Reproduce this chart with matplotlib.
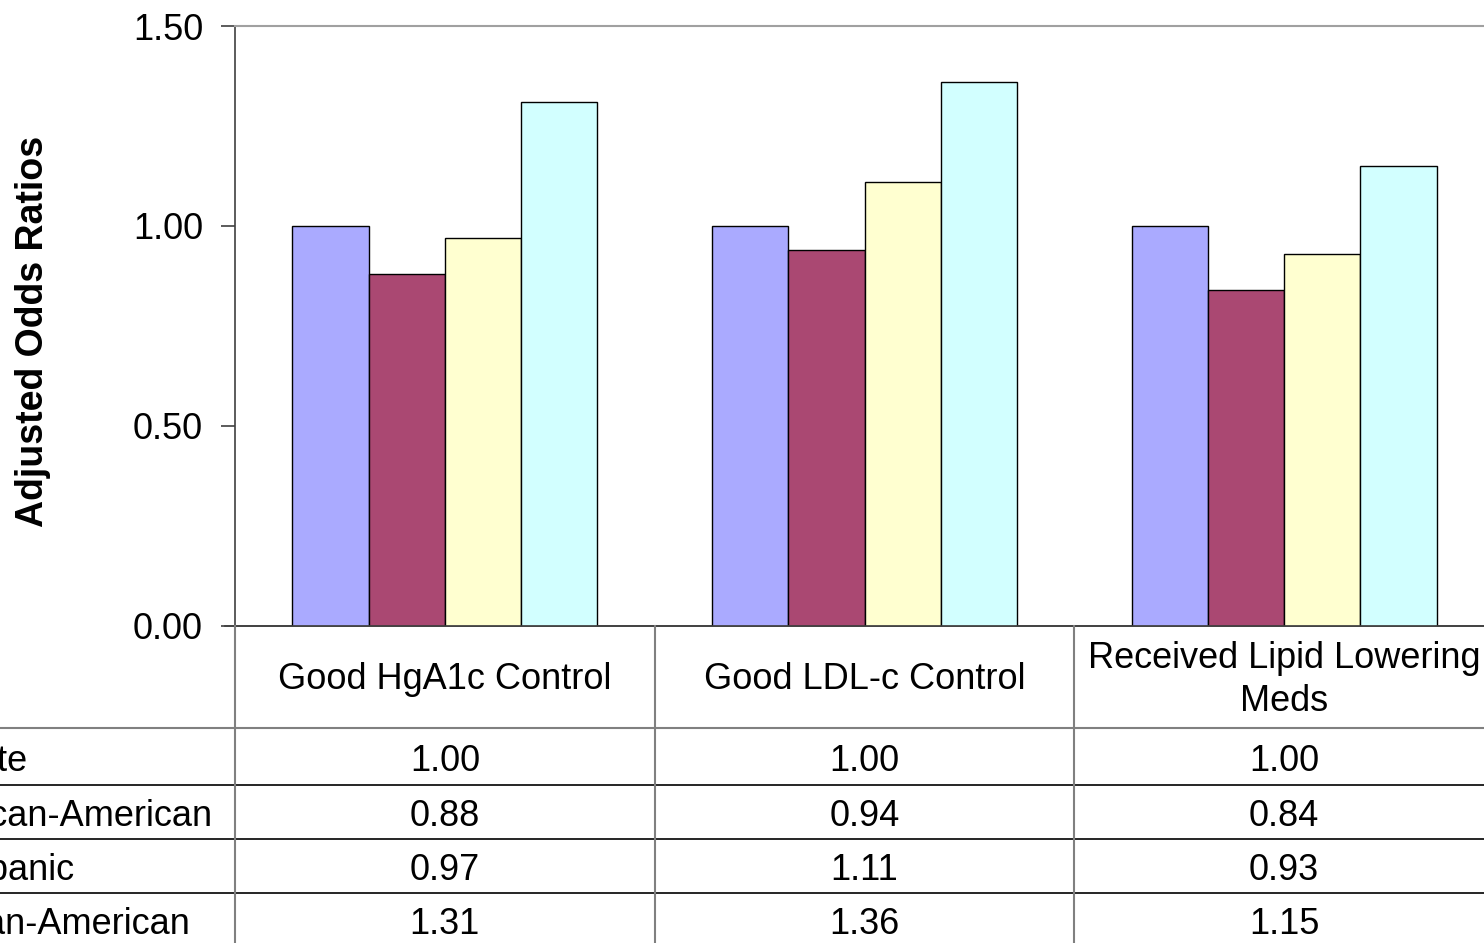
import numpy as np
import matplotlib.pyplot as plt
import matplotlib.transforms as mtransforms

plt.rcParams['font.family'] = ['Liberation Sans', 'DejaVu Sans']

measures = ['Good HgA1c Control', 'Good LDL-c Control', 'Received Lipid Lowering\nMeds']
groups = ['White', 'African-American', 'Hispanic', 'Asian-American']
white = [1.00, 1.00, 1.00]
african_american = [0.88, 0.94, 0.84]
hispanic = [0.97, 1.11, 0.93]
asian_american = [1.31, 1.36, 1.15]
yticks = [0.00, 0.50, 1.00, 1.50]

series = [white, african_american, hispanic, asian_american]
colors = ['#AAAAFF', '#AA4872', '#FFFFD0', '#D2FFFF']

W, H = 1484, 943
fig = plt.figure(figsize=(W / 100, H / 100), dpi=100)

# plot area in pixels (left, top, right, bottom); right edge runs past the canvas
x0, y0, x1, y1 = 235, 26, 1494, 625.5
ax = fig.add_axes([x0 / W, 1 - y1 / H, (x1 - x0) / W, (y1 - y0) / H])

n = len(series)
bw = 1.0 / (n + 1.5)   # excel-style gap width 150%
x = np.arange(len(measures))
for i, (vals, c) in enumerate(zip(series, colors)):
    ax.bar(x + (i - (n - 1) / 2) * bw, vals, width=bw, color=c,
           edgecolor='black', linewidth=1.0, zorder=3)

ax.set_xlim(-0.5, len(measures) - 0.5)
ax.set_ylim(0, 1.5)
ax.set_yticks(yticks)
ax.set_yticklabels(['%.2f' % t for t in yticks], fontsize=26)
ax.tick_params(axis='y', length=10, width=1.2, color='#404040', pad=13)
ax.set_xticks([])
ax.spines['right'].set_visible(False)
ax.spines['top'].set_color('#a0a0a0')
ax.spines['top'].set_linewidth(1.5)
ax.spines['left'].set_color('#404040')
ax.spines['left'].set_linewidth(1.2)
ax.spines['bottom'].set_color('#404040')
ax.spines['bottom'].set_linewidth(1.2)

ax.text(-0.1605, 0.49, 'Adjusted Odds Ratios', transform=ax.transAxes,
        rotation=90, ha='center', va='center', fontsize=27, fontweight='bold')

# data table under the plot
def fy(py):
    return 1 - py / H

blend = mtransforms.blended_transform_factory(ax.transData, fig.transFigure)
row_edges = [625.5, 728, 785, 839, 893, 947]
grey = '#808080'

# baseline stub on the left and table rules
fig.add_artist(plt.Line2D([225 / W, 1], [fy(625.5)] * 2, transform=fig.transFigure,
                          color='#404040', lw=1.2))
fig.add_artist(plt.Line2D([0, 1], [fy(728)] * 2, transform=fig.transFigure,
                          color=grey, lw=1.5))
for py in row_edges[2:-1]:
    fig.add_artist(plt.Line2D([0, 1], [fy(py)] * 2, transform=fig.transFigure,
                              color='black', lw=1.2))
for xe in np.arange(len(measures) + 1) - 0.5:
    fig.add_artist(plt.Line2D([xe, xe], [fy(625.5), 0], transform=blend,
                              color=grey, lw=1.5))

# column headers
for i, m in enumerate(measures):
    fig.text(i, fy((row_edges[0] + row_edges[1]) / 2 + 3), m, transform=blend,
             ha='center', va='center', fontsize=26, linespacing=1.3)

# row labels and values
for r, (g, vals) in enumerate(zip(groups, series)):
    yc = fy((row_edges[r + 1] + row_edges[r + 2]) / 2 + 5)
    fig.text(-64 / W, yc, g, transform=fig.transFigure, ha='left', va='center',
             fontsize=26)
    for i, v in enumerate(vals):
        fig.text(i, yc, '%.2f' % v, transform=blend, ha='center', va='center',
                 fontsize=26)

fig.savefig('out.png', dpi=100)
